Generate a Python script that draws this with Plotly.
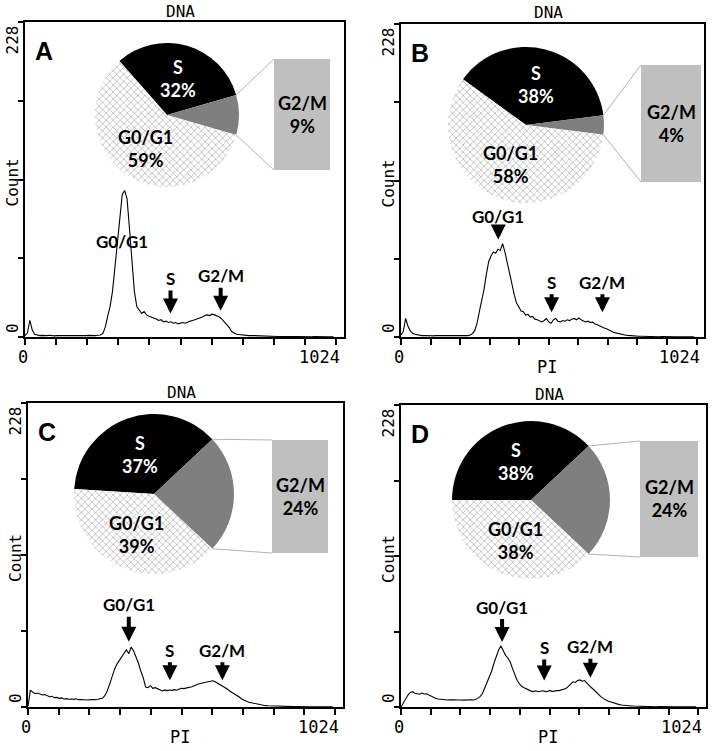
import math
import plotly.graph_objects as go

W, H = 712, 751

# ---- data ----
phases = ["S", "G2/M", "G0/G1"]
pct_A = [32, 9, 59]
pct_B = [38, 4, 58]
pct_C = [37, 24, 39]
pct_D = [38, 24, 38]

channel = list(range(0, 1024, 8))

count_A = [1, 3, 12, 5, 2, 1.5, 1, 1.2, 1, 1, 1.3, 1, 0.8, 1, 1.2, 1,
           1, 0.8, 1, 1.1, 1, 1, 0.8, 1, 1, 1, 1.2, 1, 1, 1, 1.3, 1.5,
           2.5, 7, 15, 22, 33, 50, 70, 88, 103, 106, 100, 78, 52, 33, 22, 19,
           17, 18.5, 16, 15, 14.5, 13.5, 13, 12, 12.5, 11, 11.5, 10.5, 11, 10, 10.5, 9.5,
           9.8, 10.5, 10, 11, 11.5, 12, 12.5, 13, 14, 14.5, 15.5, 16, 15.5, 16.5, 16, 15.5,
           14.5, 13, 11, 9.5, 7, 4, 3, 2, 1.8, 1.5, 1.5, 1.2, 1, 1.1, 1, 0.8,
           0.9, 0.7, 0.8, 0.6, 0.7, 0.5, 0.6, 0.5, 0.4, 0.4, 0.3, 0.4, 0.3, 0.3, 0.4, 0.3,
           0.3, 0.2, 0.3, 0.2, 0.3, 0.2, 0.2, 0.3, 0.2, 0.2, 0.1, 0.2, 0.2, 0.1, 0.2, 0.1]

count_B = [1.5, 4, 13.5, 8, 4.5, 2.7, 2, 1.5, 1.2, 1, 1.1, 0.9, 1, 1, 0.8, 1,
           1, 0.9, 1.1, 1, 0.9, 1, 1, 0.8, 1, 1, 0.9, 1, 1.1, 1, 1.5, 2.5,
           5, 10.5, 19, 27, 35, 46, 55, 59, 62, 61, 64, 63, 68, 62, 55, 47,
           39, 31, 25, 22, 19, 18.5, 16, 16.5, 14.5, 15, 13, 12.5, 11.5, 11, 12, 13.5,
           11, 10, 12.5, 13.5, 11.5, 11, 12, 11.5, 12.5, 12, 13, 13.5, 12.5, 13.8, 12.5, 12,
           11, 11.5, 10.5, 10.8, 9.5, 9, 8, 7.5, 6.5, 6, 5, 4.5, 3.5, 3, 2.5, 2,
           1.8, 1.5, 1.2, 1, 0.9, 0.8, 0.7, 0.6, 0.6, 0.5, 0.4, 0.5, 0.4, 0.3, 0.3, 0.3,
           0.2, 0.3, 0.2, 0.2, 0.3, 0.2, 0.1, 0.2, 0.2, 0.1, 0.2, 0.1, 0.1, 0.2, 0.1, 0.1]

count_C = [0.5, 12.7, 11, 10, 10.5, 9.5, 9, 9.3, 8.2, 7.7, 8, 7, 7.2, 6.5, 6.8, 6,
           6.3, 5.8, 6, 5.7, 6.2, 5.5, 5.6, 5.3, 5.5, 5.2, 5.6, 5.3, 5.5, 5.8, 6, 6.5,
           8.5, 12, 17, 23, 28, 32, 35, 38, 41, 43, 40, 45, 42, 38, 33, 27,
           22, 15, 14.5, 16, 14, 14.5, 13.5, 12.5, 12, 12.8, 12.3, 12.7, 12.5, 13, 12.6, 13.5,
           14, 13.8, 14.5, 14.7, 15, 16, 16.5, 17.2, 17.5, 18, 18.5, 19, 19.5, 19.7, 19, 18,
           17, 15.5, 15, 13.5, 12, 11, 10, 9, 7.5, 6, 5, 4.5, 3.5, 3.2, 2.8, 2.3,
           2, 1.6, 1.2, 1, 0.9, 0.8, 0.7, 0.6, 0.5, 0.5, 0.4, 0.4, 0.3, 0.4, 0.3, 0.3,
           0.3, 0.2, 0.3, 0.2, 0.2, 0.2, 0.1, 0.2, 0.2, 0.1, 0.1, 0.2, 0.1, 0.1, 0.1, 0.1]

count_D = [0, 3, 7, 9, 11, 11.6, 10.4, 10, 9.6, 10.5, 9.8, 10, 9, 8, 7.5, 6.5,
           6, 5.8, 5.5, 5.6, 5.3, 5.5, 5.2, 5.4, 5.3, 5.5, 5.3, 5.2, 5.4, 5.3, 5.5, 5.3,
           5.6, 6.5, 7.8, 10, 14, 18, 23, 27, 33, 38, 43, 46, 42, 39, 37, 34,
           29, 24, 20, 17.5, 15.4, 14.5, 13.5, 13, 12, 11.6, 12.2, 11.5, 12, 12.3, 11.8, 11.6,
           12.5, 11.8, 12, 12.5, 12.4, 13, 13.5, 14, 15.5, 17.5, 19, 18.5, 20, 20.5, 19.5, 20,
           18, 16, 14.5, 13, 11, 9.5, 7.8, 6.5, 5.3, 4.5, 4, 3.3, 2.8, 2.2, 1.8, 1.5,
           1.2, 1, 0.9, 0.8, 0.7, 0.6, 0.5, 0.5, 0.4, 0.4, 0.4, 0.3, 0.3, 0.3, 0.2, 0.3,
           0.2, 0.2, 0.2, 0.1, 0.2, 0.2, 0.1, 0.1, 0.2, 0.1, 0.1, 0.1, 0.1, 0.1, 0.1, 0.1]

# peak markers: (label, channel, count, has_arrow)
marks_A = [("G0/G1", 320, 69, False), ("S", 479, 17, True), ("G2/M", 644, 19, True)]
marks_B = [("G0/G1", 337, 71, True), ("S", 522, 18, True), ("G2/M", 698, 18, True)]
marks_C = [("G0/G1", 336, 49, True), ("S", 473, 20, True), ("G2/M", 648, 20, True)]
marks_D = [("G0/G1", 348, 49, True), ("S", 493, 20, True), ("G2/M", 652, 22, True)]

x_ticks = [0, 102.4, 204.8, 307.2, 409.6, 512, 614.4, 716.8, 819.2, 921.6, 1024]
y_ticks = [0, 57, 114, 171, 228]
x_max, y_max = 1024, 228

# ---- layout geometry (page pixels) ----
panels = [
    dict(name="A", pct=pct_A, counts=count_A, marks=marks_A, arrow=[0, 35, 35],
         plot=(25, 22, 344, 337), pie=(167, 115, 72), box=(274, 59, 330, 170), pi=False),
    dict(name="B", pct=pct_B, counts=count_B, marks=marks_B, arrow=[23, 30, 30],
         plot=(401, 24, 704, 337), pie=(526, 125, 78), box=(641, 65, 701, 182), pi=True),
    dict(name="C", pct=pct_C, counts=count_C, marks=marks_C, arrow=[37, 30, 30],
         plot=(28, 403, 343, 707), pie=(154, 494, 80), box=(272, 440, 328, 553), pi=True),
    dict(name="D", pct=pct_D, counts=count_D, marks=marks_D, arrow=[35, 33, 31],
         plot=(401, 405, 706, 707), pie=(531, 500, 79), box=(640, 441, 698, 557), pi=True),
]

MONO = "DejaVu Sans Mono"
SANS = "Lato, Open Sans, sans-serif"
XR = 1050  # x axis range end


def fx(px):
    return px / W


def fy(py):
    return 1 - py / H


def note(text, px, py, size, family=MONO, color="black", **kw):
    # text placed in page pixels
    d = dict(text=text, x=fx(px), y=fy(py), xref="paper", yref="paper", showarrow=False,
             xanchor="center", yanchor="middle",
             font=dict(family=family, size=size, color=color))
    d.update(kw)
    return d


fig = go.Figure()
annotations = []
shapes = []

for i, p in enumerate(panels, start=1):
    xa = "x" if i == 1 else f"x{i}"
    ya = "y" if i == 1 else f"y{i}"
    l, t, r, b = p["plot"]

    # histogram
    fig.add_trace(go.Scatter(x=channel, y=p["counts"], mode="lines",
                             line=dict(color="black", width=1.1),
                             xaxis=xa, yaxis=ya, showlegend=False, hoverinfo="x+y"))

    axis_common = dict(showline=True, linecolor="black", linewidth=2, mirror=True,
                       ticks="outside", tickcolor="black", tickwidth=1.5,
                       showticklabels=False, showgrid=False, zeroline=False)
    fig.update_layout({
        ("xaxis" if i == 1 else f"xaxis{i}"): dict(domain=[fx(l), fx(r)], range=[0, XR],
                                                   tickvals=x_ticks, ticklen=6, anchor=ya,
                                                   **axis_common),
        ("yaxis" if i == 1 else f"yaxis{i}"): dict(domain=[fy(b), fy(t)], range=[0, y_max],
                                                   tickvals=y_ticks, ticklen=5, anchor=xa,
                                                   **axis_common),
    })

    # axis text
    x1024 = l + (r - l) * x_max / XR
    annotations += [
        note("DNA", (l + r) / 2 - 4, t - 11, 16),
        note("Count", l - 13, (t + b) / 2 + 3, 16, textangle=-90),
        note(str(y_max), l - 13, t + 2, 16, textangle=-90, yanchor="top"),
        note("0", l - 13, b - 2, 16, textangle=-90, yanchor="bottom"),
        note("0", l - 2, b + 8, 17, yanchor="top"),
        note(str(x_max), x1024 + 6, b + 8, 17, xanchor="right", yanchor="top"),
        note("<b>" + p["name"] + "</b>", l + 19, t + 29, 25, family="Liberation Sans, Arial"),
    ]
    if p["pi"]:
        annotations.append(note("PI", (l + r) / 2 - 6, b + 30, 17))

    # phase markers on the histogram
    for (lab, cx_, cy_, has_arrow), alen in zip(p["marks"], p["arrow"]):
        ann = dict(text="<b>" + lab + "</b>", x=cx_, y=cy_, xref=xa, yref=ya,
                   font=dict(family=SANS, size=17, color="black"))
        if has_arrow:
            ann.update(showarrow=True, ax=0, ay=-alen, arrowhead=2, arrowsize=0.75,
                       arrowwidth=4, arrowcolor="black", standoff=0)
        else:
            ann.update(showarrow=False)
        annotations.append(ann)

    # pie of the cell cycle phases
    s, g2, g1 = p["pct"]
    rot = 90 - 1.8 * g2 - 3.6 * s
    pcx, pcy, pr = p["pie"]
    fig.add_trace(go.Pie(
        labels=phases, values=p["pct"], sort=False, direction="clockwise", rotation=rot,
        domain=dict(x=[fx(pcx - pr), fx(pcx + pr)], y=[fy(pcy + pr), fy(pcy - pr)]),
        marker=dict(colors=["black", "#7f7f7f", "white"],
                    pattern=dict(shape=["", "", "x"], fgcolor="#8a8a8a", bgcolor="white",
                                 size=5, solidity=0.18),
                    line=dict(width=0)),
        textinfo="none", showlegend=False, hoverinfo="label+percent"))

    # slice labels
    mid_s = math.radians(rot + 1.8 * s)
    mid_g1 = math.radians(rot + 3.6 * (s + g2) + 1.8 * g1)
    for lab, val, ang, frac, col in [("S", s, mid_s, 0.53, "white"),
                                     ("G0/G1", g1, mid_g1, 0.55, "black")]:
        annotations.append(note(f"<b>{lab}<br>{val}%</b>",
                                pcx + frac * pr * math.sin(ang),
                                pcy - frac * pr * math.cos(ang), 18, family=SANS, color=col))

    # bar for G2/M with connector lines
    bx0, by0, bx1, by1 = p["box"]
    shapes.append(dict(type="rect", xref="paper", yref="paper", x0=fx(bx0), x1=fx(bx1),
                       y0=fy(by1), y1=fy(by0), fillcolor="#bfbfbf", line=dict(width=0)))
    a1 = math.radians(rot + 3.6 * s)
    a2 = math.radians(rot + 3.6 * (s + g2))
    for ang, by in [(a1, by0), (a2, by1)]:
        shapes.append(dict(type="line", xref="paper", yref="paper",
                           x0=fx(pcx + pr * math.sin(ang)), y0=fy(pcy - pr * math.cos(ang)),
                           x1=fx(bx0), y1=fy(by), line=dict(color="#b3b3b3", width=1)))
    annotations.append(note(f"<b>G2/M<br>{g2}%</b>", (bx0 + bx1) / 2, (by0 + by1) / 2, 18,
                            family=SANS))

fig.update_layout(width=W, height=H, margin=dict(l=0, r=0, t=0, b=0),
                  paper_bgcolor="white", plot_bgcolor="white",
                  annotations=annotations, shapes=shapes, showlegend=False)

# drop the default page margin so the figure sits at the window's corner
fig.write_html("out.html", config={"displayModeBar": False},
               post_script="document.body.style.margin = '0';")
